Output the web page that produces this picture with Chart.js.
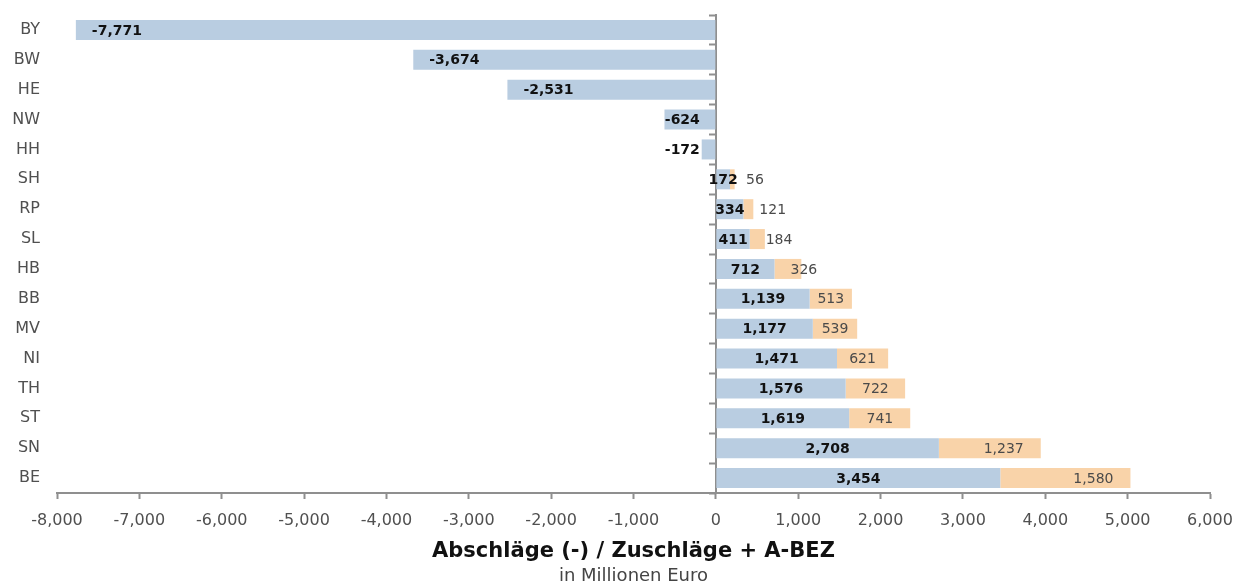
<!DOCTYPE html>
<html>
<head>
<meta charset="utf-8">
<script src="https://cdn.jsdelivr.net/npm/chart.js@4"></script>
<style>
  html, body { margin: 0; padding: 0; background: #fff; }
  #wrap { width: 1237px; height: 585px; }
</style>
</head>
<body>
<div id="wrap"><canvas id="chart"></canvas></div>
<script>
var categories = ['BY', 'BW', 'HE', 'NW', 'HH', 'SH', 'RP', 'SL', 'HB', 'BB', 'MV', 'NI', 'TH', 'ST', 'SN', 'BE'];
var baseValues = [-7771, -3674, -2531, -624, -172, 172, 334, 411, 712, 1139, 1177, 1471, 1576, 1619, 2708, 3454];
var abezValues = [null, null, null, null, null, 56, 121, 184, 326, 513, 539, 621, 722, 741, 1237, 1580];
var axisMin = -8000;
var axisMax = 6000;

var FONT = '"DejaVu Sans", sans-serif';
var AXIS_COLOR = '#8f8f8f';

function fmt(v) {
    return Number(v).toLocaleString('en-US');
}

var barLabels = {
    id: 'barLabels',
    afterDatasetsDraw: function(chart) {
        var ctx = chart.ctx;
        var zeroX = chart.scales.x.getPixelForValue(0);
        ctx.save();
        ctx.textBaseline = 'middle';

        // blue bars: bold black labels
        ctx.font = 'bold 14px ' + FONT;
        ctx.fillStyle = '#111';
        chart.getDatasetMeta(0).data.forEach(function(bar, i) {
            var v = baseValues[i];
            var text = fmt(v);
            var w = ctx.measureText(text).width;
            if (v < 0) {
                var left = bar.x + 16;
                if (left + w > zeroX - 16) {
                    ctx.textAlign = 'right';
                    ctx.fillText(text, zeroX - 16, bar.y + 1);
                } else {
                    ctx.textAlign = 'left';
                    ctx.fillText(text, left, bar.y + 1);
                }
            } else {
                ctx.textAlign = 'center';
                ctx.fillText(text, (bar.x + bar.base) / 2, bar.y + 1);
            }
        });

        // orange bars: lighter labels
        ctx.font = '14px ' + FONT;
        ctx.fillStyle = '#4a4a4a';
        chart.getDatasetMeta(1).data.forEach(function(bar, i) {
            var v = abezValues[i];
            if (v === null) return;
            var text = fmt(v);
            var w = ctx.measureText(text).width;
            var bw = bar.x - bar.base;
            if (w + 34 <= bw) {
                ctx.textAlign = 'right';
                ctx.fillText(text, bar.x - 17, bar.y + 1);
            } else if (w + 6 <= bw) {
                ctx.textAlign = 'center';
                ctx.fillText(text, (bar.x + bar.base) / 2, bar.y + 1);
            } else {
                ctx.textAlign = 'left';
                ctx.fillText(text, bar.base + 16, bar.y + 1);
            }
        });
        ctx.restore();
    }
};

function noPad(scale) {
    scale.paddingTop = 0;
    scale.paddingBottom = 0;
    scale.paddingLeft = 0;
    scale.paddingRight = 0;
}

var chart = new Chart(document.getElementById('chart'), {
    type: 'bar',
    data: {
        labels: categories,
        datasets: [
            {
                label: 'Abschläge / Zuschläge',
                data: baseValues,
                backgroundColor: '#b9cde1',
                barPercentage: 0.67,
                categoryPercentage: 1.0
            },
            {
                label: 'A-BEZ',
                data: abezValues,
                backgroundColor: '#f9d3a9',
                barPercentage: 0.67,
                categoryPercentage: 1.0
            }
        ]
    },
    options: {
        indexAxis: 'y',
        animation: false,
        responsive: true,
        maintainAspectRatio: false,
        layout: {
            padding: { top: 15, right: 27, left: 0, bottom: 0 }
        },
        plugins: {
            legend: { display: false },
            tooltip: { enabled: false },
            title: {
                display: true,
                position: 'bottom',
                fullSize: false,
                text: 'in Millionen Euro',
                color: '#444',
                font: { family: FONT, size: 18, weight: 'normal', lineHeight: 1.0 },
                padding: { top: 0, bottom: 0 }
            }
        },
        scales: {
            x: {
                type: 'linear',
                stacked: true,
                min: axisMin,
                max: axisMax,
                ticks: {
                    stepSize: 1000,
                    color: '#505050',
                    font: { family: FONT, size: 16 },
                    padding: 12,
                    callback: function(value) { return fmt(value); }
                },
                grid: {
                    drawOnChartArea: false,
                    drawTicks: true,
                    tickLength: 6,
                    tickWidth: 2,
                    tickColor: AXIS_COLOR
                },
                border: { display: true, color: AXIS_COLOR, width: 2 },
                title: {
                    display: true,
                    text: 'Abschläge (-) / Zuschläge + A-BEZ',
                    color: '#111',
                    font: { family: FONT, size: 21, weight: 'bold', lineHeight: 1.2 },
                    padding: { top: 4, bottom: 3 }
                },
                afterFit: function(scale) { scale.height = 74; noPad(scale); }
            },
            y: {
                type: 'category',
                stacked: true,
                offset: true,
                ticks: {
                    color: '#505050',
                    font: { family: FONT, size: 16 },
                    padding: 17
                },
                grid: { display: false, drawTicks: false, offset: true },
                border: { display: false },
                afterFit: function(scale) { scale.width = 57; noPad(scale); }
            },
            y2: {
                type: 'category',
                labels: categories,
                position: { x: 0 },
                offset: true,
                ticks: { display: false },
                grid: {
                    offset: true,
                    drawOnChartArea: false,
                    drawTicks: true,
                    tickLength: 6,
                    tickWidth: 2,
                    tickColor: AXIS_COLOR
                },
                border: { display: true, color: AXIS_COLOR, width: 2 },
                afterFit: noPad
            }
        }
    },
    plugins: [barLabels]
});
</script>
</body>
</html>
